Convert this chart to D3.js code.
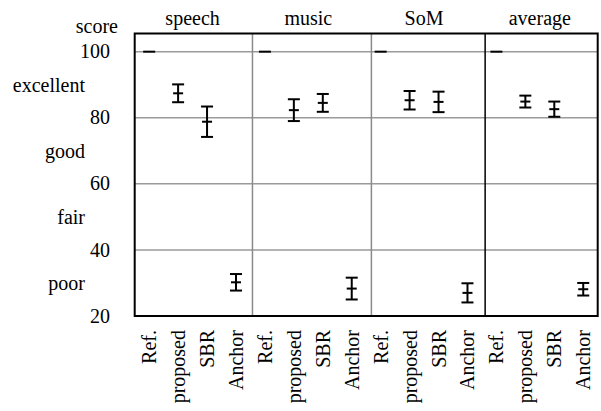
<!DOCTYPE html>
<html>
<head>
<meta charset="utf-8">
<script src="https://cdn.jsdelivr.net/npm/d3@7"></script>
<style>
  html, body { margin: 0; padding: 0; background: #fff; }
  svg { display: block; }
  text { font-family: "Liberation Serif", "Times New Roman", serif; fill: #000; }
</style>
</head>
<body>
<svg id="chart" width="601" height="411"></svg>
<script>
// Listening-test scores (mean and 95% confidence half-width) per signal class
const panels = ["speech", "music", "SoM", "average"];
const systems = ["Ref.", "proposed", "SBR", "Anchor"];

const speechMean  = [100, 87.4, 78.8, 30.2];
const speechCI    = [0,   2.7,  4.6,  2.5];
const musicMean   = [100, 82.3, 84.5, 28.3];
const musicCI     = [0,   3.3,  2.7,  3.3];
const somMean     = [100, 85.3, 84.8, 27.0];
const somCI       = [0,   2.8,  3.1,  2.9];
const averageMean = [100, 84.9, 82.6, 28.1];
const averageCI   = [0,   1.8,  2.3,  1.9];

const yTicks = [20, 40, 60, 80, 100];
const qualityLabels = ["poor", "fair", "good", "excellent"];
const qualityValues = [30, 50, 70, 90];

const means = [speechMean, musicMean, somMean, averageMean];
const cis = [speechCI, musicCI, somCI, averageCI];

// Flatten into one row per plotted point; slot = running position along x
const rows = [];
panels.forEach((p, pi) => {
  systems.forEach((s, si) => {
    rows.push({ panel: p, system: s, slot: pi * systems.length + si,
                mean: means[pi][si], ci: cis[pi][si] });
  });
});

const svg = d3.select("#chart");
const x = d3.scaleLinear().domain([-0.5, rows.length - 0.5]).range([134.7, 597.7]);
const y = d3.scaleLinear().domain([20, 105.5]).range([316, 33.5]);

const plotLeft = x(-0.5), plotRight = x(rows.length - 0.5);
const plotTop = y(105.5), plotBottom = y(20);

// Horizontal grid lines
svg.append("g").selectAll("line")
  .data(yTicks.filter(t => t > 20))
  .join("line")
  .attr("x1", plotLeft).attr("x2", plotRight)
  .attr("y1", d => y(d)).attr("y2", d => y(d))
  .attr("stroke", "#9a9a9a").attr("stroke-width", 1.5);

// Panel separators (slot positions between groups)
const separators = [
  { slot: 3.57, color: "#8a8a8a" },
  { slot: 7.68, color: "#8a8a8a" },
  { slot: 11.61, color: "#000" }
];
svg.append("g").selectAll("line")
  .data(separators)
  .join("line")
  .attr("x1", d => x(d.slot)).attr("x2", d => x(d.slot))
  .attr("y1", plotTop).attr("y2", plotBottom)
  .attr("stroke", d => d.color).attr("stroke-width", 1.5);

// Plot frame
svg.append("rect")
  .attr("x", plotLeft).attr("y", plotTop)
  .attr("width", plotRight - plotLeft).attr("height", plotBottom - plotTop)
  .attr("fill", "none").attr("stroke", "#000").attr("stroke-width", 2);

// Error bars: vertical whisker, end caps and mean tick
const capW = 12, midW = 10;
const bars = svg.append("g").selectAll("g")
  .data(rows)
  .join("g")
  .attr("stroke", "#000").attr("stroke-width", 2);

bars.filter(d => d.ci > 0).append("line")
  .attr("x1", d => x(d.slot)).attr("x2", d => x(d.slot))
  .attr("y1", d => y(d.mean + d.ci)).attr("y2", d => y(d.mean - d.ci));
bars.filter(d => d.ci > 0).append("line")
  .attr("x1", d => x(d.slot) - capW / 2).attr("x2", d => x(d.slot) + capW / 2)
  .attr("y1", d => y(d.mean + d.ci)).attr("y2", d => y(d.mean + d.ci));
bars.filter(d => d.ci > 0).append("line")
  .attr("x1", d => x(d.slot) - capW / 2).attr("x2", d => x(d.slot) + capW / 2)
  .attr("y1", d => y(d.mean - d.ci)).attr("y2", d => y(d.mean - d.ci));
bars.append("line")
  .attr("x1", d => x(d.slot) - (d.ci > 0 ? midW : capW) / 2)
  .attr("x2", d => x(d.slot) + (d.ci > 0 ? midW : capW) / 2)
  .attr("y1", d => y(d.mean)).attr("y2", d => y(d.mean));

// Y axis numbers
svg.append("g").selectAll("text")
  .data(yTicks)
  .join("text")
  .attr("x", 110).attr("y", d => y(d)).attr("dy", "0.33em")
  .attr("text-anchor", "end").attr("font-size", 20)
  .text(d => d);

// Quality scale words between the numbers
svg.append("g").selectAll("text")
  .data(qualityLabels)
  .join("text")
  .attr("x", 85).attr("y", (d, i) => y(qualityValues[i]) + 7)
  .attr("text-anchor", "end").attr("font-size", 20)
  .text(d => d);

svg.append("text")
  .attr("x", 118).attr("y", 33)
  .attr("text-anchor", "end").attr("font-size", 20)
  .text("score");

// Panel titles centred over each group
svg.append("g").selectAll("text")
  .data(panels)
  .join("text")
  .attr("x", (d, i) => x(i * systems.length + (systems.length - 1) / 2))
  .attr("y", 25)
  .attr("text-anchor", "middle").attr("font-size", 20)
  .text(d => d);

// Rotated system names below the frame
svg.append("g").selectAll("text")
  .data(rows)
  .join("text")
  .attr("transform", d => `translate(${x(d.slot)},330) rotate(-90)`)
  .attr("dy", "0.35em")
  .attr("text-anchor", "end").attr("font-size", 20)
  .text(d => d.system);
</script>
</body>
</html>
